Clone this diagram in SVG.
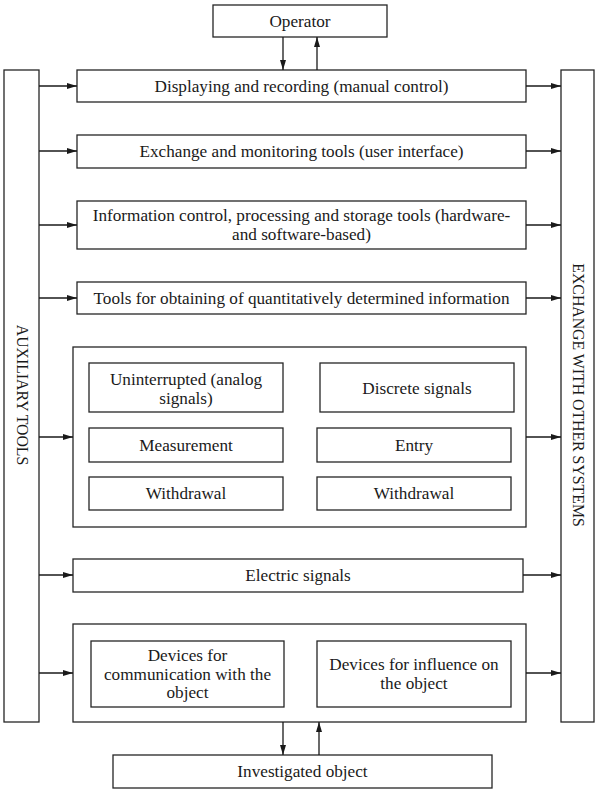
<svg xmlns="http://www.w3.org/2000/svg" width="596" height="790" viewBox="0 0 596 790">
  <style>
    .box { fill: #ffffff; stroke: #262626; stroke-width: 1.3; }
    .lbl { font-family: "Liberation Serif", "Times New Roman", serif; font-size: 17.2px; fill: #1a1a1a; text-anchor: middle; dominant-baseline: central; }
    .vlbl { font-family: "Liberation Serif", "Times New Roman", serif; font-size: 15.8px; fill: #1a1a1a; text-anchor: middle; dominant-baseline: central; }
    .wire { fill: none; stroke: #1a1a1a; stroke-width: 1.3; marker-end: url(#head); }
  </style>
  <defs>
    <marker id="head" viewBox="0 0 10 6" refX="10" refY="3" markerWidth="10" markerHeight="6" markerUnits="userSpaceOnUse" orient="auto">
      <path d="M0,0 L10,3 L0,6 Z" fill="#1a1a1a"/>
    </marker>
  </defs>

  <rect width="596" height="790" fill="#ffffff"/>

  <g id="operator">
    <rect class="box" x="213" y="5" width="174" height="32"/>
    <text class="lbl" x="300" y="21">Operator</text>
  </g>

  <g id="auxiliary-tools">
    <rect class="box" x="4" y="70" width="35" height="652"/>
    <text class="vlbl" transform="translate(22,395) rotate(90)">AUXILIARY TOOLS</text>
  </g>

  <g id="exchange-other-systems">
    <rect class="box" x="561" y="70" width="33" height="652"/>
    <text class="vlbl" transform="translate(578,395) rotate(90)">EXCHANGE WITH OTHER SYSTEMS</text>
  </g>

  <g id="displaying">
    <rect class="box" x="77" y="70" width="449" height="32"/>
    <text class="lbl" x="301.5" y="86">Displaying and recording (manual control)</text>
  </g>

  <g id="exchange-monitoring">
    <rect class="box" x="77" y="135" width="449" height="33"/>
    <text class="lbl" x="301.5" y="151">Exchange and monitoring tools (user interface)</text>
  </g>

  <g id="information-control">
    <rect class="box" x="77" y="201" width="449" height="48"/>
    <text class="lbl" x="301.5" y="215">Information control, processing and storage tools (hardware-</text>
    <text class="lbl" x="301.5" y="234">and software-based)</text>
  </g>

  <g id="quantitative-info">
    <rect class="box" x="77" y="282" width="449" height="32"/>
    <text class="lbl" x="301.5" y="298">Tools for obtaining of quantitatively determined information</text>
  </g>

  <g id="signal-group">
    <rect class="box" x="73" y="347" width="453" height="180"/>
    <g id="uninterrupted">
      <rect class="box" x="89" y="363" width="194" height="49"/>
      <text class="lbl" x="186" y="379">Uninterrupted (analog</text>
      <text class="lbl" x="186" y="398">signals)</text>
    </g>
    <g id="discrete">
      <rect class="box" x="320" y="363" width="194" height="49"/>
      <text class="lbl" x="417" y="388">Discrete signals</text>
    </g>
    <g id="measurement">
      <rect class="box" x="89" y="428" width="194" height="34"/>
      <text class="lbl" x="186" y="445">Measurement</text>
    </g>
    <g id="entry">
      <rect class="box" x="317" y="428" width="194" height="34"/>
      <text class="lbl" x="414" y="445">Entry</text>
    </g>
    <g id="withdrawal-left">
      <rect class="box" x="89" y="477" width="194" height="33"/>
      <text class="lbl" x="186" y="493">Withdrawal</text>
    </g>
    <g id="withdrawal-right">
      <rect class="box" x="317" y="477" width="194" height="33"/>
      <text class="lbl" x="414" y="493">Withdrawal</text>
    </g>
  </g>

  <g id="electric-signals">
    <rect class="box" x="73" y="559" width="450" height="33"/>
    <text class="lbl" x="298" y="575">Electric signals</text>
  </g>

  <g id="device-group">
    <rect class="box" x="73" y="624" width="453" height="98"/>
    <g id="communication-devices">
      <rect class="box" x="91" y="641" width="193" height="66"/>
      <text class="lbl" x="187.5" y="655">Devices for</text>
      <text class="lbl" x="187.5" y="674">communication with the</text>
      <text class="lbl" x="187.5" y="692">object</text>
    </g>
    <g id="influence-devices">
      <rect class="box" x="317" y="641" width="194" height="66"/>
      <text class="lbl" x="414" y="664">Devices for influence on</text>
      <text class="lbl" x="414" y="683">the object</text>
    </g>
  </g>

  <g id="investigated-object">
    <rect class="box" x="113" y="755" width="379" height="33"/>
    <text class="lbl" x="302.5" y="771">Investigated object</text>
  </g>

  <g id="connectors">
    <!-- operator link -->
    <path class="wire" d="M283,37 V70"/>
    <path class="wire" d="M317,70 V37"/>
    <!-- auxiliary tools feed each layer -->
    <path class="wire" d="M39,86 H77"/>
    <path class="wire" d="M39,151 H77"/>
    <path class="wire" d="M39,225 H77"/>
    <path class="wire" d="M39,298 H77"/>
    <path class="wire" d="M39,437 H73"/>
    <path class="wire" d="M39,575 H73"/>
    <path class="wire" d="M39,673 H73"/>
    <!-- each layer exchanges with other systems -->
    <path class="wire" d="M526,86 H561"/>
    <path class="wire" d="M526,151 H561"/>
    <path class="wire" d="M526,225 H561"/>
    <path class="wire" d="M526,298 H561"/>
    <path class="wire" d="M526,437 H561"/>
    <path class="wire" d="M523,575 H561"/>
    <path class="wire" d="M526,673 H561"/>
    <!-- object link -->
    <path class="wire" d="M283,722 V755"/>
    <path class="wire" d="M319,755 V722"/>
  </g>
</svg>
